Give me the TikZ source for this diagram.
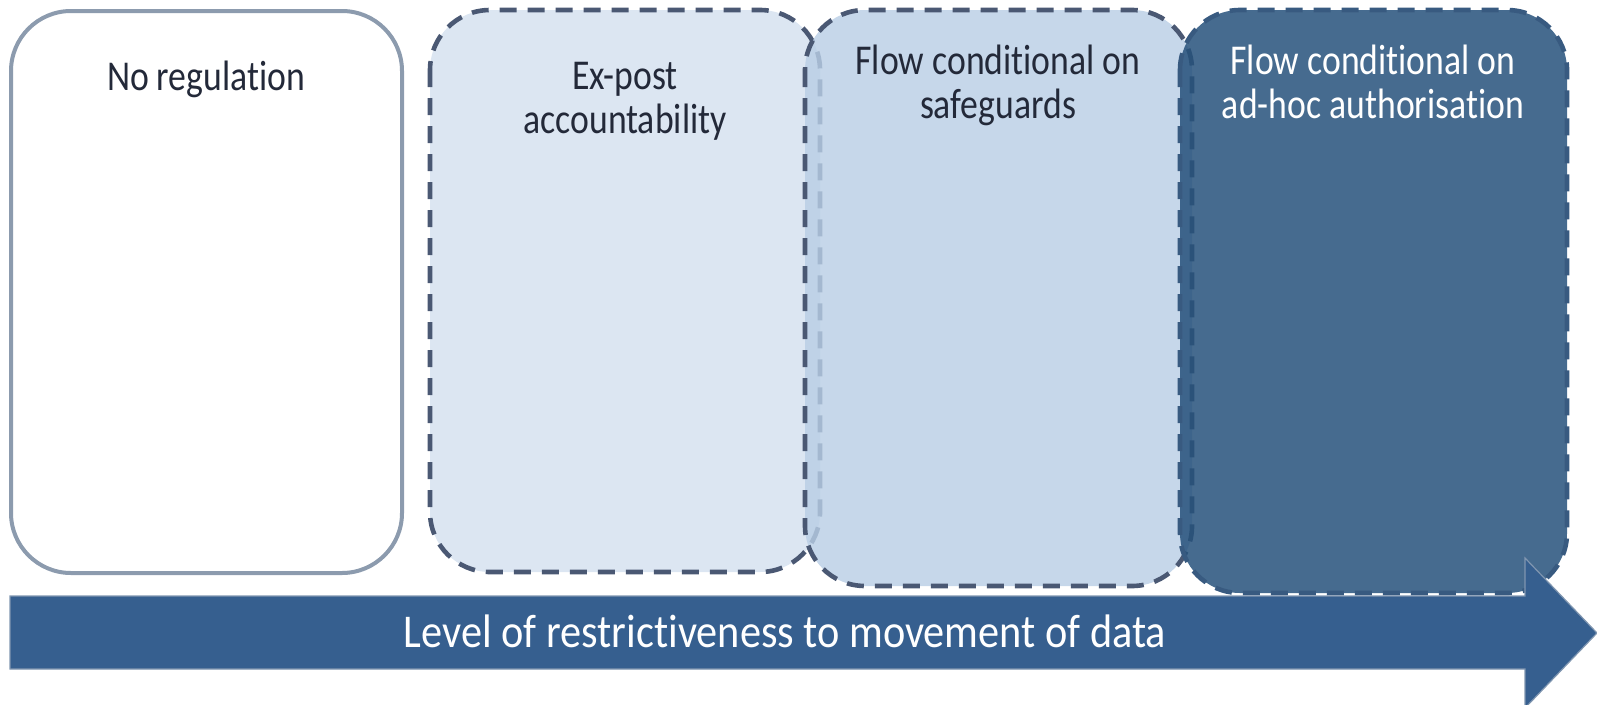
\documentclass[tikz,border=0pt]{standalone}
\usepackage{fontspec}
\setmainfont{Carlito}[FakeStretch=0.84, Ligatures=NoCommon]
\newfontfamily\arrowfont{Carlito}[FakeStretch=0.9, Ligatures=NoCommon]
\begin{document}
\begin{tikzpicture}[x=1pt,y=-1pt,
  every node/.style={inner sep=0pt, outer sep=0pt},
  boxbase/.style={rounded corners=60pt},
  plainbox/.style={boxbase, line width=4pt, draw=boxgray, fill=white},
  dashbox/.style={boxbase, line width=4.6pt, dash pattern=on 17pt off 11pt},
  boxtext/.style={anchor=base, align=center, font=\fontsize{42.5}{44}\selectfont, text=textdark},
  arrowtext/.style={anchor=base, font=\arrowfont\fontsize{47}{50}\selectfont, text=white}
]
\definecolor{boxgray}{HTML}{8C9BAE}
\definecolor{slate}{HTML}{4A5873}
\definecolor{fillA}{HTML}{DCE6F2}
\definecolor{fillB}{HTML}{B9CEE5}
\definecolor{fillC}{HTML}{26517B}
\definecolor{borderC}{HTML}{385A80}
\definecolor{arrowfill}{HTML}{365F8F}
\definecolor{arrowline}{HTML}{8096B0}
\definecolor{textdark}{HTML}{232939}
\useasboundingbox (0,0) rectangle (1597,704);

% boxes
\draw[plainbox] (11,11) rectangle (402,573);
\draw[dashbox, draw=slate, fill=fillA] (430,10) rectangle (820,572);
\draw[dashbox, draw=slate, fill=fillB, fill opacity=0.82] (805,10) rectangle (1192,586);
\draw[dashbox, draw=borderC, fill=fillC, fill opacity=0.85] (1180,10) rectangle (1567,593);

% box texts
\node[boxtext] (t1) at (206,90) {No regulation};
\node[boxtext] (t2) at (625,133) {Ex-post\\accountability};
\node[boxtext] (t3) at (998,118) {Flow conditional on\\safeguards};
\node[boxtext, text=white] (t4) at (1373,118) {Flow conditional on\\ad-hoc authorisation};

% arrow
\draw[fill=arrowfill, draw=arrowline, line width=1.2pt]
  (10,596) -- (1525,596) -- (1525,558) -- (1597,633) -- (1525,708) -- (1525,669) -- (10,669) -- cycle;
\node[arrowtext] (al) at (785,647) {Level of restrictiveness to movement of data};
\end{tikzpicture}
\end{document}
